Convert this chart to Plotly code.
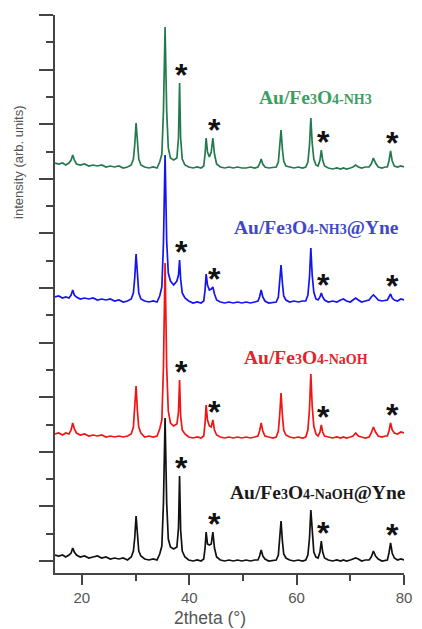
import plotly.graph_objects as go

# 2theta sampling positions (degrees)
two_theta = [15.0, 15.7, 16.4, 17.0, 17.6, 18.0, 18.3, 18.6, 19.0, 19.7,
             20.5, 21.3, 22.1, 22.9, 23.7, 24.5, 25.3, 26.1, 26.9, 27.7,
             28.5, 29.2, 29.6, 29.85, 30.1, 30.35, 30.6, 31.0, 31.7, 32.5,
             33.3, 34.0, 34.5, 34.9, 35.2, 35.5, 35.8, 36.1, 36.5, 37.1,
             37.7, 38.0, 38.2, 38.4, 38.7, 39.2, 39.9, 40.7, 41.5, 42.2,
             42.7, 42.95, 43.15, 43.4, 43.75, 44.1, 44.4, 44.7, 45.1, 45.8,
             46.6, 47.4, 48.2, 49.0, 49.8, 50.6, 51.4, 52.2, 52.8, 53.1,
             53.4, 53.7, 54.1, 54.8, 55.6, 56.2, 56.6, 56.85, 57.1, 57.35,
             57.6, 58.0, 58.7, 59.5, 60.3, 61.1, 61.7, 62.1, 62.4, 62.65,
             62.9, 63.2, 63.6, 64.0, 64.35, 64.6, 64.85, 65.2, 65.9, 66.7,
             67.5, 68.2, 68.7, 69.3, 70.0, 70.5, 71.0, 71.5, 72.1, 72.8,
             73.5, 73.9, 74.3, 74.7, 75.2, 75.9, 76.5, 76.9, 77.2, 77.5,
             77.8, 78.2, 78.8, 79.4, 80.0]

# Diffraction intensities (arb. units) for each sample
int_naoh_yne = [6, 5, 6, 4, 6, 8, 13, 9, 6, 4,
                5, 3, 4, 5, 3, 4, 2, 3, 2, 3,
                1, 4, 10, 23, 45, 23, 10, 5, 2, 1,
                2, 1, 7, 15, 58, 143, 58, 22, 14, 12,
                14, 33, 85, 31, 10, 4, 1, 0, 1, 0,
                2, 13, 29, 17, 16, 17, 29, 13, 4, 1,
                0, 1, 0, 1, 0, 1, 0, 1, 1, 5,
                11, 5, 2, 0, 1, 1, 6, 20, 40, 20,
                7, 3, 1, 0, 1, 0, 1, 6, 23, 51,
                26, 9, 4, 3, 9, 20, 9, 3, 1, 0,
                1, 0, 1, 0, 1, 2, 3, 2, 0, 1,
                1, 4, 10, 5, 2, 0, 1, 1, 8, 18,
                8, 3, 1, 2, 1]

int_naoh = [4, 5, 3, 5, 4, 8, 15, 9, 5, 3,
            4, 2, 3, 2, 3, 1, 2, 1, 2, 1,
            2, 4, 11, 27, 52, 27, 11, 5, 1, 2,
            1, 2, 9, 18, 71, 175, 71, 27, 15, 12,
            14, 26, 58, 22, 8, 4, 1, 0, 1, 0,
            2, 15, 33, 18, 12, 11, 18, 8, 3, 1,
            0, 1, 0, 1, 0, 1, 0, 1, 2, 7,
            15, 7, 2, 1, 0, 1, 7, 23, 45, 23,
            8, 3, 1, 0, 1, 0, 1, 8, 29, 64,
            32, 12, 4, 2, 6, 13, 6, 2, 1, 0,
            1, 0, 1, 0, 1, 2, 5, 2, 1, 0,
            1, 5, 11, 6, 2, 1, 2, 2, 7, 15,
            8, 5, 4, 6, 5]

int_nh3_yne = [6, 7, 5, 6, 5, 8, 13, 8, 6, 4,
               5, 4, 5, 3, 4, 3, 4, 2, 3, 1,
               2, 4, 10, 25, 49, 25, 10, 4, 2, 1,
               2, 1, 7, 16, 60, 148, 62, 30, 22, 18,
               22, 28, 43, 24, 10, 5, 2, 0, 1, 0,
               2, 13, 29, 18, 13, 14, 16, 9, 3, 1,
               0, 1, 0, 1, 0, 1, 0, 1, 2, 6,
               13, 6, 2, 0, 1, 1, 6, 20, 38, 20,
               7, 3, 1, 2, 1, 2, 2, 8, 26, 55,
               28, 11, 4, 3, 6, 10, 6, 3, 1, 2,
               1, 3, 4, 2, 1, 3, 5, 3, 1, 2,
               3, 6, 8, 6, 3, 2, 3, 3, 6, 9,
               5, 3, 2, 4, 3]

int_nh3 = [5, 4, 5, 3, 5, 8, 13, 8, 4, 3,
           4, 2, 3, 2, 3, 1, 2, 1, 2, 0,
           1, 3, 9, 23, 45, 23, 9, 3, 1, 0,
           1, 0, 6, 14, 57, 141, 57, 20, 10, 8,
           10, 30, 85, 30, 9, 3, 1, 0, 1, 0,
           2, 14, 30, 16, 11, 16, 30, 14, 4, 1,
           0, 1, 0, 1, 0, 0, 1, 0, 1, 4,
           9, 4, 1, 0, 1, 1, 6, 19, 38, 19,
           7, 2, 1, 0, 1, 0, 1, 6, 23, 50,
           25, 9, 3, 2, 8, 18, 8, 2, 0, -1,
           0, -1, 0, -1, 0, 1, 3, 1, 0, 1,
           1, 4, 10, 5, 1, 0, 1, 1, 7, 17,
           7, 2, 1, 2, 1]

# Vertical stacking offsets (bottom to top)
offsets = [0, 123, 258, 393]

# Au reflections marked with an asterisk
au_peaks = [38.2, 44.4, 64.6, 77.5]

small = "<span style='font-size:14px'>{}</span>"
labels = [
    "Au/Fe" + small.format("3") + "O" + small.format("4-NaOH") + "@Yne",
    "Au/Fe" + small.format("3") + "O" + small.format("4-NaOH"),
    "Au/Fe" + small.format("3") + "O" + small.format("4-NH3") + "@Yne",
    "Au/Fe" + small.format("3") + "O" + small.format("4-NH3"),
]
label_pos = [(64.0, 69), (61.8, 204), (63.7, 334), (63.6, 464)]

series = [int_naoh_yne, int_naoh, int_nh3_yne, int_nh3]
line_colors = ["#111111", "#f01414", "#1414f0", "#237a4e"]
label_colors = ["#1a1a1a", "#e3242b", "#4048c8", "#3a9e5f"]

fig = go.Figure()
annotations = []
for vals, off, lc, tc, lab, (lx, ly) in zip(series, offsets, line_colors,
                                             label_colors, labels, label_pos):
    ys = [v + off for v in vals]
    fig.add_trace(go.Scatter(x=two_theta, y=ys, mode="lines",
                             line=dict(color=lc, width=1.7),
                             showlegend=False, hoverinfo="skip"))
    annotations.append(dict(x=lx, y=ly, xref="x", yref="y", text="<b>" + lab + "</b>",
                            showarrow=False, xanchor="center", yanchor="middle",
                            font=dict(family="Liberation Serif", size=19.5, color=tc)))
    for p in au_peaks:
        top = ys[two_theta.index(p)]
        annotations.append(dict(x=p, y=top, xref="x", yref="y", text="<b>*</b>",
                                showarrow=False, xanchor="center", yanchor="middle",
                                xshift=2, yshift=8,
                                font=dict(family="Liberation Sans", size=32,
                                          color="#111111")))

annotations.append(dict(x=-0.103, y=0.735, xref="paper", yref="paper",
                        text="intensity (arb. units)", textangle=-90,
                        showarrow=False, xanchor="center", yanchor="middle",
                        font=dict(family="Liberation Sans", size=13, color="#555555")))
annotations.append(dict(x=0.445, y=-0.081, xref="paper", yref="paper",
                        text="2theta (°)", showarrow=False,
                        xanchor="center", yanchor="middle",
                        font=dict(family="Liberation Sans", size=17.5, color="#555555")))

major = 54.6
fig.update_layout(
    width=422, height=629,
    margin=dict(l=55, r=10, t=15, b=56),
    paper_bgcolor="white", plot_bgcolor="white",
    annotations=annotations,
    xaxis=dict(range=[15, 80], tick0=0, dtick=20, ticks="outside", ticklen=10,
               tickwidth=1.5, tickcolor="#444444", showline=True, linecolor="#444444",
               linewidth=1.5, showgrid=False, zeroline=False,
               tickfont=dict(family="Liberation Sans", size=15, color="#555555"),
               minor=dict(dtick=10, ticks="outside", ticklen=6, tickwidth=1.5,
                          tickcolor="#444444", showgrid=False)),
    yaxis=dict(range=[-12, 546], tick0=0, dtick=major, ticks="outside", ticklen=14,
               tickwidth=1.5, tickcolor="#444444", showline=True, linecolor="#444444",
               linewidth=1.5, showgrid=False, zeroline=False, showticklabels=False,
               minor=dict(dtick=major / 2, ticks="outside", ticklen=7, tickwidth=1.5,
                          tickcolor="#444444", showgrid=False)),
)

fig.write_html("out.html")
